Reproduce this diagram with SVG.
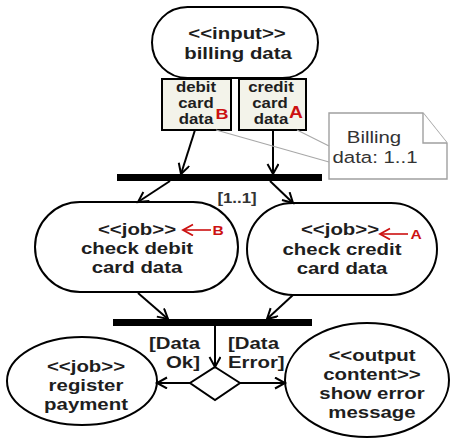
<svg xmlns="http://www.w3.org/2000/svg" width="452" height="440" viewBox="0 0 452 440">
  <style>
    .node { fill: #ffffff; stroke: #000000; stroke-width: 2; }
    .pin { fill: #f3f3ea; stroke: #000000; stroke-width: 2; }
    .bar { fill: #000000; }
    .edge { fill: none; stroke: #000000; stroke-width: 2; marker-end: url(#open); }
    .redge { fill: none; stroke: #cc1111; stroke-width: 1.6; marker-end: url(#openRed); }
    .anchor { fill: none; stroke: #a8a8a8; stroke-width: 1.2; }
    .note { fill: #ffffff; stroke: #a0a0a0; stroke-width: 1.4; }
    text { font-family: "Liberation Sans", Arial, sans-serif; fill: #1e1e1e; }
    .lb { font-size: 17px; font-weight: bold; text-anchor: middle; }
    .pt { font-size: 14px; font-weight: bold; text-anchor: middle; }
    .red { fill: #cc1111; font-weight: bold; text-anchor: middle; }
    .nt { font-size: 17px; text-anchor: middle; fill: #333333; }
  </style>
  <defs>
    <marker id="open" markerUnits="userSpaceOnUse" markerWidth="14" markerHeight="14" refX="11" refY="6" orient="auto">
      <path d="M1,0.5 L11,6 L1,11.5" fill="none" stroke="#000000" stroke-width="2"/>
    </marker>
    <marker id="openRed" markerUnits="userSpaceOnUse" markerWidth="14" markerHeight="14" refX="11" refY="6" orient="auto">
      <path d="M1,0.5 L11,6 L1,11.5" fill="none" stroke="#cc1111" stroke-width="1.8"/>
    </marker>
  </defs>

  <!-- input node with its two pins -->
  <g id="billing-data">
    <rect class="node" x="152" y="7" width="166" height="71" rx="35.5"/>
    <text class="lb" transform="translate(237 39) scale(1.2 1)">&lt;&lt;input&gt;&gt;</text>
    <text class="lb" transform="translate(238 59) scale(1.2 1)">billing data</text>
  </g>
  <g id="pin-debit">
    <rect class="pin" x="162" y="79" width="69" height="51"/>
    <text class="pt" transform="translate(196 92) scale(1.2 1)">debit</text>
    <text class="pt" transform="translate(196 108) scale(1.2 1)">card</text>
    <text class="pt" transform="translate(196 124) scale(1.2 1)">data</text>
    <text class="red" style="font-size:15px" transform="translate(222 119) scale(1.2 1)">B</text>
  </g>
  <g id="pin-credit">
    <rect class="pin" x="239" y="79" width="67" height="51"/>
    <text class="pt" transform="translate(271 92) scale(1.2 1)">credit</text>
    <text class="pt" transform="translate(270 108) scale(1.2 1)">card</text>
    <text class="pt" transform="translate(271 124) scale(1.2 1)">data</text>
    <text class="red" style="font-size:16px" transform="translate(296 118) scale(1.2 1)">A</text>
  </g>

  <!-- note -->
  <g id="note">
    <path class="note" d="M329,113 H423 L447,143 V179 H329 Z"/>
    <path class="note" d="M423,113 V143 H447" fill="none"/>
    <text class="nt" transform="translate(374 143) scale(1.2 1)">Billing</text>
    <text class="nt" transform="translate(375 163) scale(1.2 1)">data: 1..1</text>
  </g>

  <!-- fork / join bars -->
  <g id="fork">
    <rect class="bar" x="117" y="174" width="205" height="7"/>
  </g>
  <g id="join">
    <rect class="bar" x="113" y="319" width="199" height="7"/>
  </g>

  <!-- job nodes -->
  <g id="check-debit">
    <rect class="node" x="35" y="202" width="203" height="90" rx="45"/>
    <text class="lb" transform="translate(137 235) scale(1.2 1)">&lt;&lt;job&gt;&gt;</text>
    <text class="lb" transform="translate(137 254) scale(1.2 1)">check debit</text>
    <text class="lb" transform="translate(137 273) scale(1.2 1)">card data</text>
    <text class="red" style="font-size:13px" transform="translate(218 235) scale(1.2 1)">B</text>
  </g>
  <g id="check-credit">
    <rect class="node" x="247" y="203" width="190" height="92" rx="46"/>
    <text class="lb" transform="translate(340 235) scale(1.2 1)">&lt;&lt;job&gt;&gt;</text>
    <text class="lb" transform="translate(342 255) scale(1.2 1)">check credit</text>
    <text class="lb" transform="translate(342 274) scale(1.2 1)">card data</text>
    <text class="red" style="font-size:13px" transform="translate(416 239) scale(1.2 1)">A</text>
  </g>

  <!-- decision -->
  <g id="decision">
    <polygon class="node" points="215,367 240,383 215,400 190,383"/>
  </g>

  <g id="register-payment">
    <ellipse class="node" cx="82" cy="381" rx="75" ry="44"/>
    <text class="lb" transform="translate(86 372) scale(1.2 1)">&lt;&lt;job&gt;&gt;</text>
    <text class="lb" transform="translate(86 391) scale(1.2 1)">register</text>
    <text class="lb" transform="translate(86 410) scale(1.2 1)">payment</text>
  </g>
  <g id="show-error">
    <ellipse class="node" cx="367" cy="380" rx="82" ry="57"/>
    <text class="lb" transform="translate(372 361) scale(1.2 1)">&lt;&lt;output</text>
    <text class="lb" transform="translate(372 380) scale(1.2 1)">content&gt;&gt;</text>
    <text class="lb" transform="translate(372 399) scale(1.2 1)">show error</text>
    <text class="lb" transform="translate(372 418) scale(1.2 1)">message</text>
  </g>

  <!-- connectors -->
  <g id="connectors">
    <line class="edge" x1="195" y1="130" x2="181" y2="174"/>
    <line class="edge" x1="273" y1="130" x2="273" y2="174"/>
    <line class="edge" x1="170" y1="181" x2="138" y2="202"/>
    <line class="edge" x1="270" y1="181" x2="293" y2="203"/>
    <line class="edge" x1="138" y1="293" x2="168" y2="319"/>
    <line class="edge" x1="293" y1="295" x2="267" y2="319"/>
    <line class="edge" x1="215" y1="326" x2="215" y2="367"/>
    <line class="edge" x1="190" y1="383" x2="157" y2="383"/>
    <line class="edge" x1="240" y1="383" x2="285" y2="383"/>
    <line class="anchor" x1="216" y1="130" x2="329" y2="162"/>
    <line class="anchor" x1="297" y1="130" x2="329" y2="146"/>
    <line class="redge" x1="211" y1="230" x2="183" y2="230"/>
    <line class="redge" x1="408" y1="234" x2="380" y2="234"/>
    <text class="pt" transform="translate(237 203) scale(1.2 1)" style="fill:#333333">[1..1]</text>
    <text class="lb" style="text-anchor:end" transform="translate(200 349) scale(1.2 1)">[Data</text>
    <text class="lb" style="text-anchor:end" transform="translate(200 368) scale(1.2 1)">Ok]</text>
    <text class="lb" style="text-anchor:start" transform="translate(228 349) scale(1.2 1)">[Data</text>
    <text class="lb" style="text-anchor:start" transform="translate(228 368) scale(1.2 1)">Error]</text>
  </g>
</svg>
